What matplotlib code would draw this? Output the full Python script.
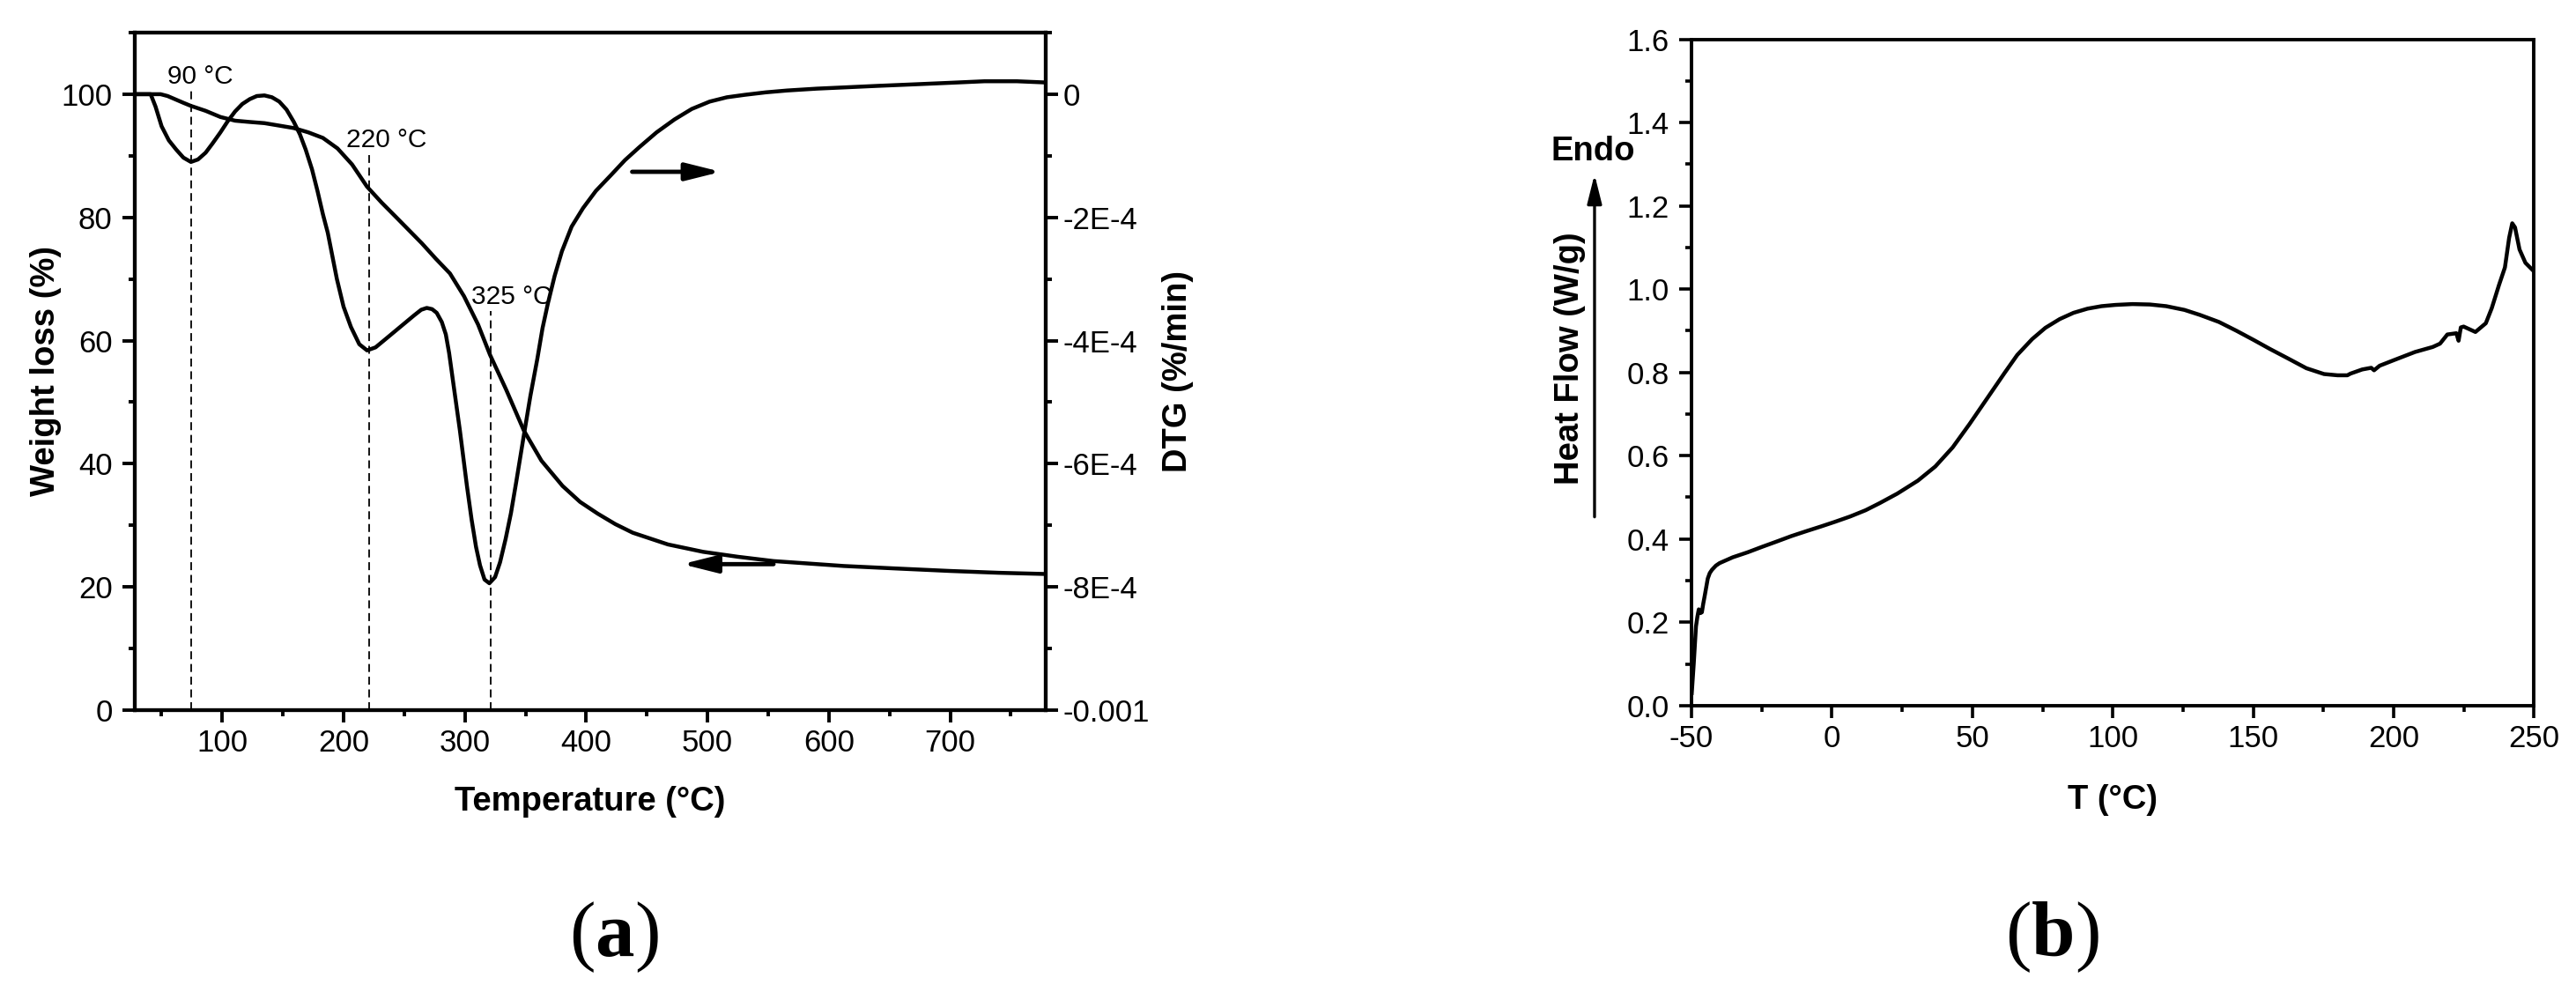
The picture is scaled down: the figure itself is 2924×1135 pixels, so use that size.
import numpy as np
import matplotlib
matplotlib.use('Agg')
import matplotlib.pyplot as plt
from matplotlib.ticker import MultipleLocator, FixedLocator, FixedFormatter, FormatStrFormatter

plt.rcParams['font.family'] = ['Liberation Sans', 'DejaVu Sans']
plt.rcParams['axes.unicode_minus'] = False
plt.rcParams['mathtext.fontset'] = 'custom'
plt.rcParams['mathtext.rm'] = 'Liberation Serif'
plt.rcParams['mathtext.bf'] = 'Liberation Serif:bold'

# ---- (a) TG / DTG data ----
tg_T = [27.7, 40, 49.2, 55, 62.1, 68, 74.2, 86.3, 98.5, 110.6, 122, 134.8, 147, 159,
        171, 183, 195, 207, 219.3, 231.4, 243.5, 254, 264.5, 276, 287.7, 299.3, 310.9,
        320.7, 334.1, 348.6, 363.1, 380.5, 395, 409.5, 424, 438.4, 467.4, 496.4, 525,
        554.4, 612.4, 655, 699.4, 740, 779]
tg_w = [100.0, 100.0, 100.0, 99.7, 99.1, 98.6, 98.1, 97.3, 96.3, 95.7, 95.5, 95.3, 94.9, 94.5,
        93.8, 92.9, 91.2, 88.6, 85.0, 82.4, 80.0, 77.9, 75.8, 73.3, 70.9, 67.2, 62.6,
        57.7, 52.0, 45.4, 40.5, 36.4, 33.8, 31.9, 30.2, 28.8, 26.9, 25.7, 24.9,
        24.2, 23.4, 23.0, 22.6, 22.3, 22.1]

dtg_T = [27.7, 35, 41, 45, 50, 56, 62.1, 68, 74.2, 80, 86.3, 92, 98.5, 104.5, 110.6, 116.5,
         122.7, 128.5, 134.8, 141, 147, 153, 159, 164, 168.8, 174, 178.5, 183, 187, 194.5,
         200, 206.1, 213, 219.4, 226.4, 235, 246.6, 258.2, 264, 268.6, 273, 276.8, 281,
         284.3, 287, 290.1, 295.9, 301.7, 305.5, 309.2, 312.5, 316.2, 320.2, 324.9, 329,
         333.6, 338, 342.3, 348.6, 354, 359.7, 364, 368.4, 374, 380, 388, 397.4, 408,
         420.6, 432, 443.8, 458, 472.8, 487, 501.8, 516, 530.8, 548, 565.6, 590, 612.4,
         640, 670.4, 700, 728.3, 755, 779]
dtg_v = np.array([0.0, 0.0, 0.0, -0.2, -0.52, -0.75, -0.90, -1.03, -1.10, -1.06, -0.95, -0.80,
                  -0.62, -0.44, -0.28, -0.16, -0.08, -0.03, -0.02, -0.05, -0.12, -0.25, -0.45,
                  -0.65, -0.9, -1.22, -1.57, -1.95, -2.25, -3.0, -3.45, -3.78, -4.06, -4.16,
                  -4.11, -3.97, -3.78, -3.59, -3.50, -3.47, -3.49, -3.55, -3.7, -3.90, -4.2,
                  -4.64, -5.46, -6.36, -6.9, -7.35, -7.65, -7.88, -7.94, -7.84, -7.6, -7.22,
                  -6.8, -6.3, -5.54, -4.9, -4.3, -3.8, -3.40, -2.95, -2.55, -2.15, -1.85,
                  -1.57, -1.31, -1.07, -0.86, -0.62, -0.41, -0.24, -0.12, -0.05, -0.01, 0.03,
                  0.06, 0.09, 0.11, 0.135, 0.16, 0.185, 0.21, 0.21, 0.19]) * 1e-4

peak_T = [74.3, 220.9, 321.0]
peak_top = [100.7, 90.1, 64.8]
peak_lbl = ['90 °C', '220 °C', '325 °C']
peak_lbl_x = [82.1, 235.5, 338.5]
peak_lbl_y = [101.7, 91.4, 65.9]

dtg_ticks = [0, -2e-4, -4e-4, -6e-4, -8e-4, -1e-3]
dtg_ticklabels = ['0', '-2E-4', '-4E-4', '-6E-4', '-8E-4', '-0.001']

# ---- (b) DSC data ----
dsc_T = [-49.9, -49.2, -48.4, -47.9, -47.4, -46.8, -46.3, -45.8, -45.3, -44.2, -43.5, -42.7,
         -41.3, -40.0, -35.3, -30, -24.9, -20, -14.4, -9, -3.9, 1, 6.5, 12, 17.0, 23.3,
         30.6, 36.8, 43, 49, 55, 61.4, 66, 71.3, 76, 81.1, 86, 91, 96, 100.9, 107, 113.2,
         119, 125.5, 131, 137.8, 144, 150.1, 156, 162.5, 168.9, 175.2, 180, 183.5, 184.6,
         188.8, 192, 193, 195, 200.3, 207.6, 213.9, 216.5, 219.1, 222.3, 223.1, 223.9,
         224.9, 229.1, 232.8, 234.9, 237.5, 239.6, 241.1, 242.2, 243.2, 244.8, 246.9, 250]
dsc_hf = [0.03, 0.10, 0.19, 0.213, 0.231, 0.222, 0.224, 0.245, 0.263, 0.305, 0.318, 0.326,
          0.336, 0.342, 0.356, 0.368, 0.381, 0.393, 0.407, 0.419, 0.430, 0.441, 0.454, 0.469,
          0.486, 0.509, 0.540, 0.574, 0.620, 0.676, 0.735, 0.798, 0.842, 0.880, 0.907, 0.928,
          0.943, 0.953, 0.959, 0.962, 0.964, 0.963, 0.959, 0.950, 0.938, 0.921, 0.900,
          0.878, 0.856, 0.833, 0.810, 0.796, 0.793, 0.793, 0.797, 0.807, 0.811, 0.805,
          0.816, 0.830, 0.849, 0.861, 0.869, 0.891, 0.894, 0.876, 0.908, 0.910, 0.897,
          0.918, 0.954, 1.010, 1.052, 1.123, 1.158, 1.148, 1.095, 1.063, 1.042]

TICK_FS = 25
LAB_FS = 27.5
CURVE_LW = 3.2

fig = plt.figure(figsize=(29.24, 11.35), dpi=100)

# ============================ (a) ============================
ax1 = fig.add_axes([0.05222, 0.28987, 0.35383, 0.67753])
ax1r = ax1.twinx()
ax1.plot(tg_T, tg_w, color='k', lw=CURVE_LW, solid_joinstyle='round')
ax1r.plot(dtg_T, dtg_v, color='k', lw=CURVE_LW, solid_joinstyle='round')
for t, top in zip(peak_T, peak_top):
    ax1.plot([t, t], [0, top], color='k', lw=1.3, ls=(0, (5, 3)))
for s, x, y in zip(peak_lbl, peak_lbl_x, peak_lbl_y):
    ax1.text(x, y, s, ha='center', va='baseline', fontsize=21.5)
arrow = dict(arrowstyle='-|>,head_length=1.6,head_width=0.4', lw=3.5, color='k',
             mutation_scale=15, shrinkA=0, shrinkB=0)
ax1.annotate('', xy=(511.1, 87.4), xytext=(437.9, 87.4), arrowprops=arrow)
ax1.annotate('', xy=(479.0, 23.7), xytext=(554.4, 23.7), arrowprops=arrow)

ax1.set_xlim(27.7, 779)
ax1.set_ylim(0, 110)
ax1r.set_ylim(-0.001, 0.0001)
ax1.xaxis.set_major_locator(FixedLocator([100, 200, 300, 400, 500, 600, 700]))
ax1.xaxis.set_minor_locator(MultipleLocator(50))
ax1.yaxis.set_major_locator(MultipleLocator(20))
ax1.yaxis.set_minor_locator(MultipleLocator(10))
ax1r.yaxis.set_major_locator(FixedLocator(dtg_ticks))
ax1r.yaxis.set_major_formatter(FixedFormatter(dtg_ticklabels))
ax1r.yaxis.set_minor_locator(MultipleLocator(1e-4))

for a in (ax1, ax1r):
    for sp in a.spines.values():
        sp.set_linewidth(3.0)
ax1.tick_params(which='both', direction='out', top=False, right=False, width=2.8)
ax1.tick_params(which='major', length=10, labelsize=TICK_FS)
ax1.tick_params(which='minor', length=5)
ax1.tick_params(axis='y', which='major', pad=8)
ax1.tick_params(axis='x', which='major', pad=5)
ax1r.tick_params(which='both', direction='out', right=True, left=False, top=False,
                 bottom=False, width=2.8)
ax1r.tick_params(which='major', length=10, labelsize=TICK_FS, pad=4)
ax1r.tick_params(which='minor', length=5)

ax1.set_xlabel('Temperature (°C)', fontsize=LAB_FS, fontweight='bold', va='center')
ax1.xaxis.set_label_coords(0.5, -0.1346)
ax1.set_ylabel('Weight loss (%)', fontsize=LAB_FS, fontweight='bold', va='center')
ax1.yaxis.set_label_coords(-0.0973, 0.5)
ax1r.set_ylabel('DTG (%/min)', fontsize=LAB_FS, fontweight='bold', va='center')
ax1r.yaxis.set_label_coords(1.1447, 0.5)

# ============================ (b) ============================
ax2 = fig.add_axes([0.65663, 0.29445, 0.32712, 0.66634])
ax2.plot(dsc_T, dsc_hf, color='k', lw=CURVE_LW, solid_joinstyle='round')
ax2.set_xlim(-50, 250)
ax2.set_ylim(0, 1.6)
ax2.xaxis.set_major_locator(MultipleLocator(50))
ax2.xaxis.set_minor_locator(MultipleLocator(25))
ax2.yaxis.set_major_locator(MultipleLocator(0.2))
ax2.yaxis.set_minor_locator(MultipleLocator(0.1))
ax2.yaxis.set_major_formatter(FormatStrFormatter('%.1f'))
for sp in ax2.spines.values():
    sp.set_linewidth(2.8)
ax2.tick_params(which='both', direction='out', top=False, right=False, width=2.6)
ax2.tick_params(which='major', length=10, labelsize=TICK_FS)
ax2.tick_params(which='minor', length=5)
ax2.tick_params(axis='y', which='major', pad=8)
ax2.tick_params(axis='x', which='major', pad=5)
ax2.set_xlabel('T (°C)', fontsize=LAB_FS, fontweight='bold', va='center')
ax2.xaxis.set_label_coords(0.5, -0.1417)
ax2.set_ylabel('Heat Flow (W/g)', fontsize=LAB_FS, fontweight='bold', va='center')
ax2.yaxis.set_label_coords(-0.1445, 0.521)

# Endo arrow
fig.text(0.6183, 0.8487, 'Endo', ha='center', va='center', fontsize=LAB_FS, fontweight='bold')
ax2.annotate('', xy=(0.6190, 0.8256), xytext=(0.6190, 0.4831), xycoords='figure fraction',
             textcoords='figure fraction',
             arrowprops=dict(arrowstyle='-|>,head_length=1.6,head_width=0.4', lw=2.4,
                             color='k', mutation_scale=12.5, shrinkA=0, shrinkB=0))

# panel labels
fig.text(697 / 2924, 0.0634, r'($\mathbf{a}$)', ha='center', va='center', fontsize=64,
         family='Liberation Serif')
fig.text(2329 / 2924, 0.0634, r'($\mathbf{b}$)', ha='center', va='center', fontsize=64,
         family='Liberation Serif')

fig.savefig('out.png', dpi=100)
